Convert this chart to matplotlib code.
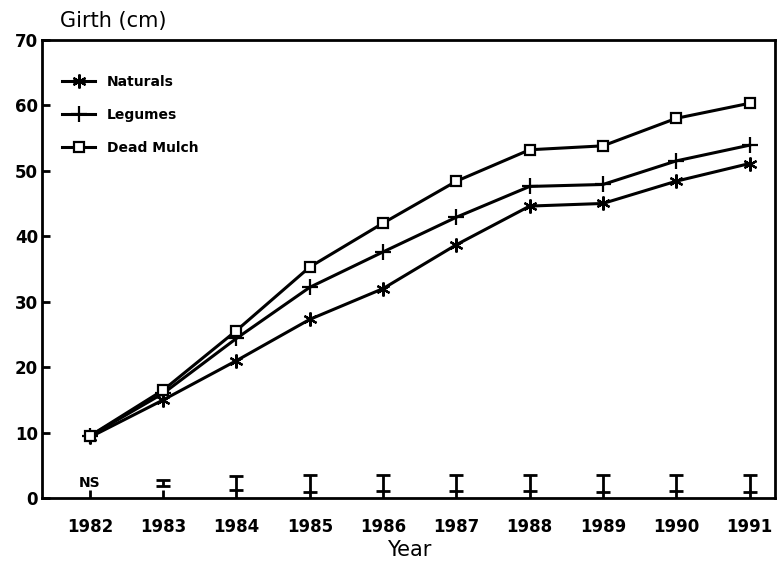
import numpy as np
import matplotlib.pyplot as plt

years = [1982, 1983, 1984, 1985, 1986, 1987, 1988, 1989, 1990, 1991]
year_labels = ['1982', '1983', '1984', '1985', '1986', '1987', '1988', '1989', '1990', '1991']
naturals = [9.3, 15.0, 21.0, 27.3, 32.0, 38.7, 44.6, 45.0, 48.4, 51.1]
legumes = [9.5, 16.0, 24.4, 32.2, 37.6, 42.9, 47.6, 47.9, 51.5, 53.9]
dead_mulch = [9.5, 16.5, 25.6, 35.3, 42.0, 48.4, 53.2, 53.8, 58.0, 60.3]
lsd_center = [2.3, 2.3, 2.3, 2.3, 2.3, 2.3, 2.3, 2.3, 2.3, 2.3]
lsd_half = [0.0, 0.5, 1.1, 1.3, 1.2, 1.2, 1.2, 1.3, 1.2, 1.3]

plt.rcParams['font.family'] = 'DejaVu Sans'
fig = plt.figure(figsize=(7.83, 5.68), dpi=100)
ax = fig.add_axes([0.054, 0.123, 0.936, 0.807])

ax.plot(years, naturals, '-', color='black', lw=2.2, marker=(6, 2, 0), ms=10, mew=1.6, label='Naturals')
ax.plot(years, legumes, '-', color='black', lw=2.2, marker='+', ms=12, mew=1.6, label='Legumes')
ax.plot(years, dead_mulch, '-', color='black', lw=2.2, marker='s', ms=7, mew=1.6, mfc='white', label='Dead Mulch')

# LSD bars along the bottom
ax.errorbar(years[1:], lsd_center[1:], yerr=lsd_half[1:], fmt='none', ecolor='black', elinewidth=2, capsize=5, capthick=2)
ax.text(years[0], 1.2, 'NS', ha='center', va='bottom', fontsize=10, fontweight='bold')

ax.set_xlim(1981.35, 1991.35)
ax.set_ylim(0, 70)
ax.set_xticks(years)
ax.set_xticklabels(year_labels, fontsize=12, fontweight='bold')
ax.set_yticks([0, 10, 20, 30, 40, 50, 60, 70])
ax.set_yticklabels(['0', '10', '20', '30', '40', '50', '60', '70'], fontsize=12, fontweight='bold')
ax.tick_params(direction='in', length=6, width=2)
ax.tick_params(axis='x', pad=14)
ax.tick_params(axis='y', pad=3)
for s in ax.spines.values():
    s.set_linewidth(2)

ax.set_xlabel('Year', fontsize=15, labelpad=3)
fig.text(0.077, 0.952, 'Girth (cm)', fontsize=15)

leg = ax.legend(loc='upper left', bbox_to_anchor=(0.01, 0.95), frameon=False, handlelength=2.4,
                prop={'weight': 'bold', 'size': 10}, labelspacing=1.35)

fig.savefig('out.png', dpi=100)
